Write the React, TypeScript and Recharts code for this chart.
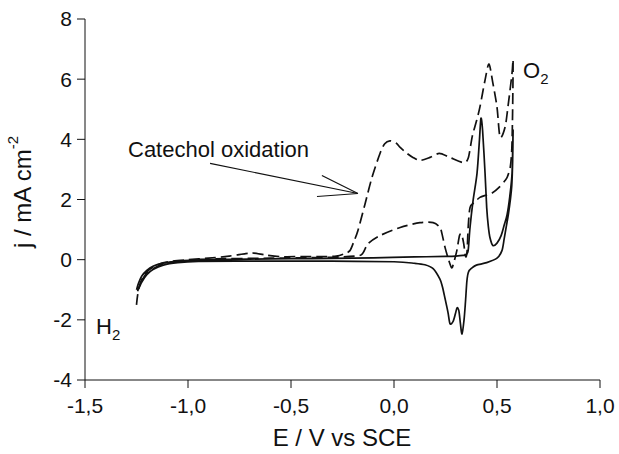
import React from "react";
import { LineChart, Line, XAxis, YAxis, ReferenceLine } from "recharts";

// solid CV: forward sweep then reverse sweep (E in V vs SCE, j in mA cm-2)
const E_SOLID = [
  -1.25, -1.24, -1.225, -1.2, -1.17, -1.13, -1.08, -1.0, -0.9, -0.7, -0.5, -0.3, -0.1, 0.1, 0.25,
  0.3, 0.335, 0.35, 0.36, 0.369, 0.384, 0.403, 0.415, 0.422, 0.43, 0.442, 0.45, 0.458, 0.466, 0.48,
  0.5, 0.52, 0.535, 0.549, 0.562, 0.573, 0.578,
  0.576, 0.572, 0.565, 0.555, 0.545, 0.535, 0.524, 0.5, 0.45, 0.4, 0.379, 0.362, 0.354, 0.347, 0.34,
  0.33, 0.322, 0.315, 0.306, 0.298, 0.287, 0.272, 0.262, 0.248, 0.235, 0.223, 0.19, 0.15, 0.1, 0.0,
  -0.3, -0.7, -0.95, -1.05, -1.12, -1.17, -1.2, -1.225, -1.245,
];
const J_SOLID = [
  -1.0, -0.78, -0.55, -0.36, -0.22, -0.13, -0.07, -0.03, 0.0, 0.02, 0.03, 0.04, 0.06, 0.09, 0.11,
  0.12, 0.14, 0.17, 0.3, 1.07, 1.97, 2.87, 4.0, 4.7, 4.3, 2.87, 1.73, 1.1, 0.73, 0.47,
  0.55, 0.8, 1.15, 1.5, 2.1, 2.87, 4.3,
  3.3, 2.5, 2.0, 1.5, 1.1, 0.7, 0.3, 0.05, -0.1, -0.18, -0.27, -0.4, -0.7, -1.4, -2.0,
  -2.47, -2.1, -1.7, -1.6, -1.8, -2.05, -2.13, -1.75, -1.3, -0.9, -0.65, -0.3, -0.17, -0.12, -0.07,
  -0.05, -0.05, -0.06, -0.1, -0.18, -0.33, -0.5, -0.75, -1.05,
];

// dashed CV (with catechol): forward sweep then reverse sweep
const E_DASH = [
  -1.25, -1.245, -1.235, -1.22, -1.2, -1.17, -1.13, -1.08, -1.0, -0.9, -0.8, -0.72, -0.68, -0.62,
  -0.55, -0.45, -0.35, -0.28, -0.24, -0.214, -0.195, -0.175, -0.14, -0.107, -0.068, -0.045, -0.02,
  0.01, 0.03, 0.06, 0.092, 0.126, 0.175, 0.22, 0.27, 0.335, 0.36, 0.38, 0.4, 0.417, 0.442, 0.461,
  0.48, 0.5, 0.515, 0.539, 0.553, 0.573, 0.578,
  0.577, 0.575, 0.572, 0.565, 0.55, 0.539, 0.51, 0.48, 0.45, 0.417, 0.39, 0.369, 0.36, 0.355, 0.348,
  0.338, 0.328, 0.318, 0.305, 0.29, 0.28, 0.265, 0.248, 0.235, 0.223, 0.19, 0.126, 0.03, -0.068,
  -0.126, -0.15, -0.175, -0.3, -0.6, -0.9, -1.05, -1.12, -1.17, -1.2, -1.225, -1.24,
];
const J_DASH = [
  -1.5, -1.2, -0.85, -0.6, -0.4, -0.25, -0.12, -0.05, 0.0, 0.05, 0.12, 0.2, 0.22, 0.15,
  0.1, 0.1, 0.1, 0.12, 0.2, 0.3, 0.6, 0.97, 1.87, 2.73, 3.53, 3.85, 3.95,
  3.88, 3.73, 3.55, 3.4, 3.3, 3.4, 3.53, 3.4, 3.23, 3.37, 4.1, 4.6, 5.07, 5.97, 6.5,
  5.87, 5.07, 4.07, 4.4, 5.07, 6.2, 6.63,
  5.6, 4.6, 3.7, 3.1, 2.75, 2.63, 2.4, 2.23, 2.15, 2.07, 1.9, 1.73, 1.07, 0.3, 0.1,
  0.55, 0.85, 0.8, 0.3, -0.1, -0.27, 0.0, 0.4, 0.8, 1.07, 1.23, 1.23, 1.07, 0.8,
  0.53, 0.23, 0.13, 0.08, 0.05, 0.02, -0.05, -0.15, -0.3, -0.45, -0.7, -0.95,
];

const X_TICKS = [-1.5, -1.0, -0.5, 0, 0.5, 1.0];
const Y_TICKS = [-4, -2, 0, 2, 4, 6, 8];

// open arrow pointing at the catechol wave: [x1, y1, x2, y2]
const ARROW = [
  [-0.893, 3.2, -0.175, 2.2],
  [-0.35, 2.8, -0.175, 2.2],
  [-0.374, 2.1, -0.175, 2.2],
];

const solid = E_SOLID.map((E, i) => ({ E, j: J_SOLID[i] }));
const dashed = E_DASH.map((E, i) => ({ E, j: J_DASH[i] }));

// cardinal-style spline that follows point order (the sweeps loop back on themselves)
const smooth = (ctx: any) => {
  let p: number[][] = [];
  const k = 0.14;
  return {
    areaStart() {},
    areaEnd() {},
    lineStart() {
      p = [];
    },
    point(x: number, y: number) {
      p.push([+x, +y]);
    },
    lineEnd() {
      if (!p.length) return;
      ctx.moveTo(p[0][0], p[0][1]);
      for (let i = 0; i < p.length - 1; i++) {
        const p0 = p[i - 1] || p[i];
        const p1 = p[i];
        const p2 = p[i + 1];
        const p3 = p[i + 2] || p2;
        ctx.bezierCurveTo(
          p1[0] + (p2[0] - p0[0]) * k,
          p1[1] + (p2[1] - p0[1]) * k,
          p2[0] - (p3[0] - p1[0]) * k,
          p2[1] - (p3[1] - p1[1]) * k,
          p2[0],
          p2[1]
        );
      }
    },
  };
};

const INK = "#111";
const FONT = "'Liberation Sans', Arial, sans-serif";
const tickStyle = { fill: INK, fontSize: 21, fontFamily: FONT };

export default function App() {
  return (
    <div style={{ position: "absolute", left: 0, top: 0, width: 619, height: 454, background: "#fff" }}>
      <LineChart width={619} height={454} margin={{ top: 19, right: 19, left: 0, bottom: 0 }}>
        <XAxis
          type="number"
          dataKey="E"
          domain={[-1.5, 1.0]}
          ticks={X_TICKS}
          allowDataOverflow
          height={74}
          tickSize={8}
          tickMargin={10}
          tick={tickStyle}
          stroke={INK}
          tickFormatter={(v) => v.toFixed(1).replace(".", ",")}
        />
        <YAxis
          type="number"
          domain={[-4, 8]}
          ticks={Y_TICKS}
          width={85}
          tickSize={8}
          tickMargin={5}
          tick={tickStyle}
          stroke={INK}
        />
        {ARROW.map(([x1, y1, x2, y2], i) => (
          <ReferenceLine
            key={i}
            segment={[{ x: x1, y: y1 }, { x: x2, y: y2 }]}
            stroke={INK}
            strokeWidth={1.2}
          />
        ))}
        <Line data={solid} dataKey="j" type={smooth as any} stroke={INK} strokeWidth={1.7} dot={false} isAnimationActive={false} />
        <Line data={dashed} dataKey="j" type={smooth as any} stroke={INK} strokeWidth={1.7} strokeDasharray="11 5" dot={false} isAnimationActive={false} />
      </LineChart>
      <svg width={619} height={454} style={{ position: "absolute", left: 0, top: 0, pointerEvents: "none" }}>
        <g fontFamily={FONT} fill={INK}>
          <text x={22} y={192} transform="rotate(-90 22 192)" textAnchor="middle" dominantBaseline="central" fontSize={24}>
            j / mA cm<tspan fontSize={15} dy={-10}>-2</tspan>
          </text>
          <text x={342} y={446} textAnchor="middle" fontSize={24}>E / V vs SCE</text>
          <text x={128} y={157} fontSize={22}>Catechol oxidation</text>
          <text x={523} y={78} fontSize={22}>
            O<tspan fontSize={15} dy={6}>2</tspan>
          </text>
          <text x={96} y={334} fontSize={22}>
            H<tspan fontSize={15} dy={6}>2</tspan>
          </text>
        </g>
      </svg>
    </div>
  );
}
